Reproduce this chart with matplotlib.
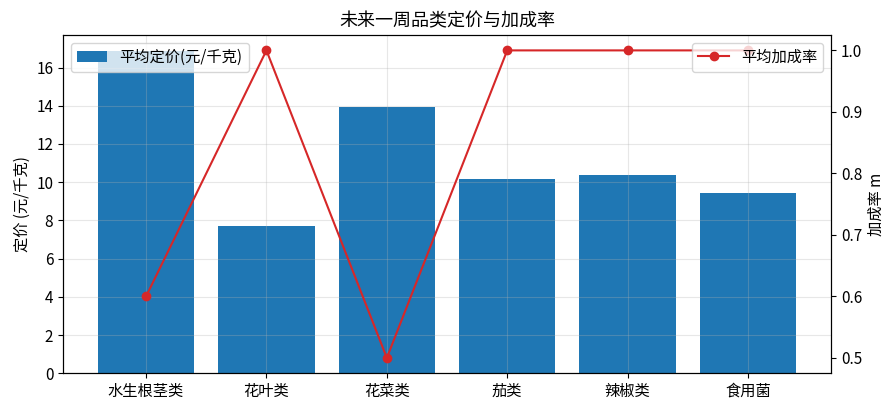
import matplotlib
matplotlib.use("Agg")
import matplotlib.pyplot as plt

plt.rcParams["font.family"] = ["Noto Sans CJK SC", "DejaVu Sans"]
plt.rcParams["axes.unicode_minus"] = False
plt.rcParams["font.size"] = 11

# 品类、平均定价与平均加成率
CATEGORIES = ["水生根茎类", "花叶类", "花菜类", "茄类", "辣椒类", "食用菌"]
AVG_PRICE = [16.86, 7.69, 13.96, 10.17, 10.38, 9.44]
AVG_MARKUP = [0.6, 1.0, 0.5, 1.0, 1.0, 1.0]


def main() -> None:
    fig, ax1 = plt.subplots(figsize=(8.96, 4.12), dpi=100)
    x = list(range(len(CATEGORIES)))

    ax1.bar(x, AVG_PRICE, color="#1f77b4", label="平均定价(元/千克)")
    ax1.set_ylabel("定价 (元/千克)")
    ax1.set_xticks(x)
    ax1.set_xticklabels(CATEGORIES)
    ax1.grid(True, alpha=0.3)
    ax1.legend(loc="upper left")

    ax2 = ax1.twinx()
    ax2.plot(x, AVG_MARKUP, color="#d62728", marker="o", label="平均加成率")
    ax2.set_ylabel("加成率 m")
    ax2.legend(loc="upper right")

    ax1.set_title("未来一周品类定价与加成率", fontsize=13)

    fig.subplots_adjust(left=0.0703, right=0.9275, top=0.915, bottom=0.094)
    fig.savefig("out.png")
    plt.close(fig)


if __name__ == "__main__":
    main()
